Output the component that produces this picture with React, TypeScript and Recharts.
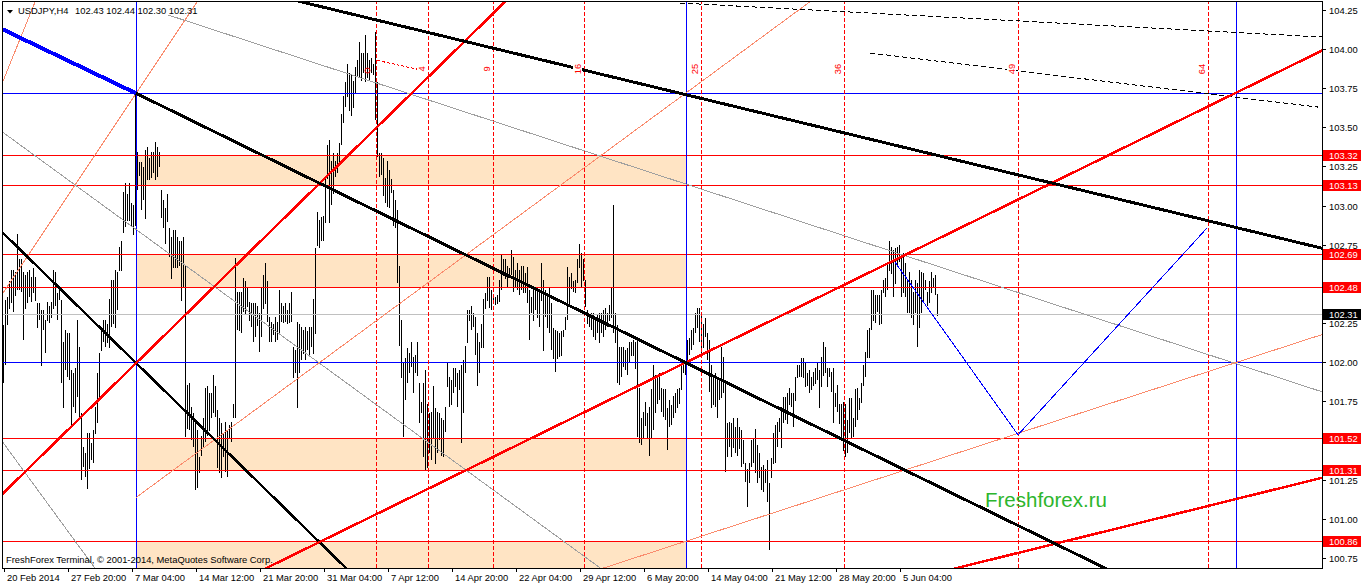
import React from 'react';
import { ComposedChart, Bar, XAxis, YAxis, ReferenceLine, ReferenceArea, ReferenceDot } from 'recharts';

// ---- H4 bars (high / low), one per bar ----
const highs = [
  102.24, 102.40, 102.42, 102.52, 102.59, 102.59, 102.58, 102.82, 102.66, 102.66,
  102.58, 102.56, 102.58, 102.59, 102.55, 102.605, 102.55, 102.38, 102.38, 102.34,
  102.34, 102.27, 102.39, 102.36, 102.39, 102.59, 102.58, 102.445, 102.465, 102.40,
  102.13, 102.21, 102.19, 102.19, 101.955, 101.935, 101.97, 102.27, 102.10, 101.68,
  101.46, 101.425, 101.55, 101.55, 101.49, 101.57, 101.72, 101.935, 102.06, 102.23,
  102.27, 102.27, 102.25, 102.41, 102.53, 102.53, 102.59, 102.58, 102.74, 102.78,
  103.09, 103.15, 103.08, 103.15, 103.02, 103.01, 103.72, 103.345, 103.28, 103.28,
  103.25, 103.36, 103.38, 103.31, 103.345, 103.345, 103.41, 103.38, 103.345, 103.10,
  103.04, 102.99, 103.08, 102.86, 102.80, 102.85, 102.85, 102.80, 102.78, 102.78,
  102.80, 102.62, 101.86, 101.87, 101.72, 101.68, 101.615, 101.57, 101.40, 101.53,
  101.65, 101.84, 101.85, 101.81, 101.81, 101.92, 101.85, 101.70, 101.65, 101.615,
  101.55, 101.62, 101.57, 101.60, 101.62, 101.74, 102.67, 102.45, 102.45, 102.45,
  102.54, 102.52, 102.48, 102.39, 102.38, 102.38, 102.38, 102.36, 102.32, 102.48,
  102.56, 102.64, 102.52, 102.29, 102.26, 102.25, 102.29, 102.26, 102.465, 102.38,
  102.36, 102.38, 102.34, 102.38, 102.45, 102.10, 102.08, 102.26, 102.25, 102.23,
  102.21, 102.23, 102.20, 102.23, 102.23, 102.41, 102.73, 102.96, 102.91, 102.93,
  102.94, 103.19, 103.39, 103.42, 103.29, 103.34, 103.29, 103.34, 103.40, 103.59,
  103.70, 103.79, 103.91, 103.85, 103.84, 103.80, 103.89, 103.93, 104.05, 103.98,
  103.98, 104.09, 103.98, 103.93, 103.945, 103.91, 104.11, 103.79, 103.34, 103.34,
  103.31, 103.18, 103.29, 103.23, 103.17, 103.10, 103.04, 102.975, 102.62, 102.27,
  102.00, 102.03, 102.095, 102.06, 102.13, 102.04, 102.05, 102.13, 101.87, 101.75,
  101.87, 101.955, 101.74, 101.68, 101.685, 101.85, 101.71, 101.685, 101.68, 101.65,
  101.635, 101.72, 102.00, 101.91, 101.89, 101.97, 101.97, 101.935, 101.955, 101.985,
  102.02, 102.11, 102.34, 102.34, 102.36, 102.32, 102.29, 102.19, 102.13, 102.25,
  102.41, 102.445, 102.55, 102.55, 102.465, 102.43, 102.42, 102.43, 102.53, 102.69,
  102.66, 102.66, 102.62, 102.605, 102.72, 102.675, 102.59, 102.64, 102.59, 102.62,
  102.62, 102.57, 102.61, 102.465, 102.42, 102.48, 102.48, 102.465, 102.445, 102.64,
  102.53, 102.465, 102.42, 102.48, 102.38, 102.22, 102.21, 102.20, 102.19, 102.20,
  102.21, 102.29, 102.61, 102.55, 102.57, 102.52, 102.53, 102.66, 102.76, 102.70,
  102.66, 102.53, 102.34, 102.305, 102.32, 102.32, 102.27, 102.305, 102.32, 102.32,
  102.34, 102.35, 102.32, 102.37, 102.48, 103.01, 102.32, 102.24, 102.10, 102.10,
  102.10, 102.08, 102.095, 102.13, 102.13, 102.145, 102.13, 102.165, 101.84, 101.65,
  101.685, 101.75, 101.68, 101.72, 101.83, 101.985, 101.92, 101.91, 101.935, 101.84,
  101.83, 101.83, 101.71, 101.76, 101.73, 101.79, 101.81, 101.83, 101.84, 102.02,
  102.005, 102.005, 102.145, 102.16, 102.21, 102.22, 102.32, 102.35, 102.35, 102.305,
  102.25, 102.285, 102.19, 102.145, 101.985, 101.92, 101.935, 101.91, 101.89, 102.10,
  102.04, 101.89, 101.615, 101.62, 101.615, 101.65, 101.59, 101.65, 101.59, 101.57,
  101.51, 101.36, 101.32, 101.36, 101.51, 101.52, 101.58, 101.475, 101.425, 101.335,
  101.35, 101.32, 101.38, 101.23, 101.39, 101.55, 101.60, 101.62, 101.65, 101.72,
  101.78, 101.78, 101.81, 101.84, 101.81, 101.81, 101.91, 101.985, 101.985, 102.03,
  102.03, 102.00, 101.935, 101.955, 101.91, 101.94, 101.97, 102.00, 101.955, 102.04,
  102.13, 102.10, 101.97, 101.97, 101.94, 101.97, 101.81, 101.86, 101.74, 101.74,
  101.75, 101.74, 101.635, 101.775, 101.775, 101.65, 101.83, 101.84, 101.775, 101.87,
  101.985, 102.07, 102.21, 102.22, 102.465, 102.465, 102.43, 102.43, 102.43, 102.465,
  102.53, 102.54, 102.64, 102.78, 102.74, 102.72, 102.73, 102.74, 102.75, 102.675,
  102.70, 102.64, 102.53, 102.58, 102.53, 102.45, 102.53, 102.51, 102.59, 102.58,
  102.57, 102.53, 102.45, 102.52, 102.58, 102.54, 102.56, 102.44,
];
const lows = [
  101.87, 101.985, 102.24, 102.34, 102.38, 102.32, 102.43, 102.465, 102.465, 102.45,
  102.145, 102.34, 102.38, 102.42, 102.39, 102.445, 102.40, 102.22, 102.27, 101.985,
  102.21, 102.06, 102.27, 102.25, 102.29, 102.34, 102.36, 102.27, 102.40, 101.87,
  101.71, 101.955, 101.91, 101.89, 101.60, 101.72, 101.68, 101.78, 101.65, 101.25,
  101.335, 101.27, 101.19, 101.32, 101.38, 101.36, 101.55, 101.615, 101.76, 102.08,
  102.13, 102.10, 102.13, 102.10, 102.23, 102.25, 102.22, 102.34, 102.59, 102.59,
  102.83, 102.87, 102.91, 102.91, 102.87, 102.82, 102.87, 103.10, 103.19, 102.975,
  103.04, 102.92, 103.17, 103.17, 103.18, 103.21, 103.17, 103.19, 103.25, 102.92,
  102.86, 102.76, 102.90, 102.675, 102.53, 102.61, 102.61, 102.605, 102.62, 102.40,
  102.48, 101.53, 101.58, 101.57, 101.51, 101.46, 101.19, 101.20, 101.30, 101.40,
  101.46, 101.495, 101.53, 101.57, 101.65, 101.68, 101.65, 101.33, 101.30, 101.265,
  101.40, 101.30, 101.27, 101.51, 101.495, 101.65, 101.65, 102.21, 102.20, 102.19,
  102.32, 102.305, 102.36, 102.27, 102.23, 102.13, 102.165, 102.23, 102.07, 102.165,
  102.34, 102.38, 102.26, 102.13, 102.13, 102.18, 102.13, 102.145, 102.19, 102.26,
  102.25, 102.26, 102.25, 102.25, 102.26, 101.90, 101.935, 101.71, 101.935, 102.02,
  102.06, 102.02, 102.08, 102.04, 102.10, 102.06, 102.18, 102.74, 102.73, 102.78,
  102.78, 102.89, 103.17, 102.89, 103.01, 103.08, 103.19, 103.21, 103.275, 103.39,
  103.53, 103.63, 103.70, 103.61, 103.57, 103.63, 103.72, 103.82, 103.82, 103.80,
  103.85, 103.79, 103.82, 103.80, 103.85, 103.84, 103.55, 103.31, 103.19, 103.20,
  103.07, 103.02, 102.995, 102.99, 103.08, 102.87, 102.86, 102.51, 102.11, 101.90,
  101.53, 101.76, 101.87, 101.935, 101.97, 101.81, 101.935, 101.91, 101.615, 101.68,
  101.40, 101.32, 101.33, 101.425, 101.38, 101.51, 101.35, 101.425, 101.51, 101.41,
  101.40, 101.56, 101.85, 101.72, 101.73, 101.81, 101.85, 101.72, 101.83, 101.49,
  101.68, 101.935, 102.13, 102.27, 102.21, 102.23, 102.05, 101.85, 101.935, 102.10,
  102.10, 102.34, 102.40, 102.35, 102.34, 102.37, 102.37, 102.37, 102.39, 102.465,
  102.55, 102.53, 102.48, 102.55, 102.56, 102.45, 102.48, 102.465, 102.43, 102.465,
  102.445, 102.445, 102.38, 102.145, 102.32, 102.27, 102.34, 102.285, 102.23, 102.40,
  102.08, 102.29, 102.22, 102.19, 102.08, 102.02, 101.94, 102.02, 102.04, 102.04,
  102.165, 102.21, 102.27, 102.38, 102.465, 102.45, 102.45, 102.51, 102.605, 102.48,
  102.52, 102.36, 102.25, 102.23, 102.21, 102.165, 102.145, 102.19, 102.13, 102.19,
  102.165, 102.21, 102.23, 102.27, 102.29, 102.19, 102.13, 101.87, 101.86, 101.91,
  101.97, 101.955, 101.92, 102.00, 102.04, 102.04, 101.955, 101.53, 101.49, 101.475,
  101.51, 101.60, 101.52, 101.41, 101.51, 101.57, 101.68, 101.74, 101.76, 101.685,
  101.65, 101.635, 101.44, 101.59, 101.60, 101.65, 101.68, 101.71, 101.74, 101.83,
  101.935, 101.92, 101.985, 102.05, 102.08, 102.11, 102.19, 102.22, 102.13, 102.05,
  102.095, 102.165, 102.02, 101.81, 101.71, 101.73, 101.72, 101.65, 101.76, 101.775,
  101.81, 101.30, 101.40, 101.46, 101.40, 101.46, 101.425, 101.41, 101.45, 101.335,
  101.36, 101.24, 101.08, 101.23, 101.335, 101.36, 101.30, 101.23, 101.265, 101.19,
  101.175, 101.23, 101.11, 100.805, 101.265, 101.35, 101.36, 101.46, 101.56, 101.46,
  101.615, 101.635, 101.615, 101.73, 101.72, 101.59, 101.76, 101.90, 101.91, 101.91,
  101.90, 101.85, 101.85, 101.81, 101.83, 101.85, 101.87, 101.89, 101.71, 101.85,
  101.91, 101.935, 101.85, 101.91, 101.81, 101.62, 101.72, 101.685, 101.615, 101.51,
  101.44, 101.40, 101.425, 101.55, 101.52, 101.53, 101.59, 101.635, 101.70, 101.74,
  101.85, 101.91, 102.03, 102.03, 102.21, 102.27, 102.25, 102.32, 102.24, 102.25,
  102.45, 102.42, 102.465, 102.59, 102.57, 102.42, 102.50, 102.61, 102.64, 102.42,
  102.445, 102.42, 102.32, 102.32, 102.285, 102.24, 102.32, 102.10, 102.22, 102.32,
  102.39, 102.465, 102.36, 102.38, 102.445, 102.48, 102.43, 102.30,
];

// ---- axis ----
const xTickBars = [0, 32, 64, 96, 128, 160, 192, 224, 256, 288, 320, 352, 384, 416, 448];
const xTickLabels = [
  '20 Feb 2014', '27 Feb 20:00', '7 Mar 04:00', '14 Mar 12:00', '21 Mar 20:00',
  '31 Mar 04:00', '7 Apr 12:00', '14 Apr 20:00', '22 Apr 04:00', '29 Apr 12:00',
  '6 May 20:00', '14 May 04:00', '21 May 12:00', '28 May 20:00', '5 Jun 04:00',
];
const yTicks = [100.75, 101.0, 101.25, 101.5, 101.75, 102.0, 102.25, 102.5, 102.75, 103.0, 103.25, 103.5, 103.75, 104.0, 104.25];

// ---- levels ----
const redLevels = [103.32, 103.13, 102.69, 102.48, 101.52, 101.31, 100.86];
const blueLevels = [103.72, 102.0];
const lastBar = { open: 102.43, high: 102.44, low: 102.30, close: 102.31 };

// zones (bar index range + price ranges)
const zoneBars = [66, 341];
const zones = [[103.13, 103.32], [102.48, 102.69], [101.31, 101.52], [100.5, 100.86]];

// vertical lines (bar index)
const blueVerticals = [66, 341, 616];
const gannBars = [186, 212, 244.5, 290, 348.5, 420, 507, 602];
const gannLabels = ['', '4', '9', '16', '25', '36', '49', '64'];

// trend lines: [barIndex, price] pairs
const blueTrend = [[-1, 104.13], [66, 103.72]];
const blackMain = [[66, 103.72], [560, 100.63]];
const blackUpper = [[140, 104.33], [660, 102.728]];
const blackLower = [[-1, 102.835], [175, 100.64]];
const redSteep = [[-1, 101.16], [255, 104.36]];
const redMain = [[120, 100.62], [665, 104.03]];
const redLow = [[470, 100.67], [665, 101.285]];
const salmonA = [[-5, 102.36], [100, 104.37]];
const salmonB = [[-2, 103.75], [17, 104.35]];
const salmonC = [[66, 101.14], [410, 104.37]];
const salmonD = [[290, 100.65], [665, 102.205]];
const grayG1 = [[82, 104.22], [665, 101.79]];
const grayG2 = [[-1, 103.475], [310, 100.58]];
const grayG3 = [[-1, 101.5], [50, 100.61]];
const dashTop1 = [[338, 104.296], [659, 104.079]];
const dashTop2 = [[433, 103.977], [657, 103.632]];
const blueV = [[444.5, 102.66], [507, 101.54], [601.5, 102.86]];
const redDashSmall = [[186.5, 103.93], [208, 103.87]];
const redMarker = [181.75, 103.865];

const FONT = '"Liberation Sans", Arial, sans-serif';
const FS = 9.4;

const bars = highs.map((h, k) => ({ i: k, range: [lows[k], h] }));

const seg = (pts: number[][]) => [
  { x: pts[0][0], y: pts[0][1] },
  { x: pts[1][0], y: pts[1][1] },
];

const BarShape = (props: any) => {
  const { x, y, width, height } = props;
  if (x == null || y == null) return null;
  const top = Math.min(y, y + height);
  const h = Math.abs(height);
  return (
    <rect
      x={Math.floor(x + width / 2 - 0.5)}
      y={Math.round(top)}
      width={1}
      height={Math.max(1, Math.round(h))}
      fill="#000"
      shapeRendering="crispEdges"
    />
  );
};

const XTick = (props: any) => {
  const { x, y, payload } = props;
  const idx = xTickBars.indexOf(payload.value);
  const label = idx >= 0 ? xTickLabels[idx] : '';
  return (
    <g>
      <line x1={x} x2={x} y1={y} y2={y + 4} stroke="#000" shapeRendering="crispEdges" />
      <text x={x + 3} y={y + 13} fontSize={FS} fontFamily={FONT} fill="#000">{label}</text>
    </g>
  );
};

const tagLevels = [...redLevels, lastBar.close];

const YTick = (props: any) => {
  const { x, y, payload } = props;
  const v = payload.value as number;
  if (tagLevels.includes(v)) {
    const bg = v === lastBar.close ? '#000' : '#FF0000';
    return (
      <g>
        <rect x={x + 1} y={y - 5.5} width={38} height={11} fill={bg} shapeRendering="crispEdges" />
        <text x={x + 7} y={y + 3.5} fontSize={FS} fontFamily={FONT} fill="#fff">{v.toFixed(2)}</text>
      </g>
    );
  }
  // a regular label that sits right under a price tag is covered by it
  const covered = tagLevels.some((t) => Math.abs(t - v) < 0.035);
  return (
    <g>
      <line x1={x} x2={x + 4} y1={y} y2={y} stroke="#000" shapeRendering="crispEdges" />
      {!covered && (
        <text x={x + 7} y={y + 3.5} fontSize={FS} fontFamily={FONT} fill="#000">{v.toFixed(2)}</text>
      )}
    </g>
  );
};

const gannLabel = (text: string) => (props: any) => {
  const vb = props.viewBox || {};
  if (!text) return null;
  const len = text.length * 5.3;
  return (
    <g transform={`translate(${(vb.x || 0) - 3},69) rotate(-90)`}>
      <rect x={-len / 2 - 1} y={-8} width={len + 2} height={9} fill="#fff" />
      <text textAnchor="middle" fontSize={FS} fontFamily={FONT} fill="#FF0000">
        {text}
      </text>
    </g>
  );
};

export default function App() {
  const yAxisTicks = [...yTicks, ...tagLevels];
  const trend = (pts: number[][], color: string, w: number, extra: any = {}) => (
    <ReferenceLine
      segment={seg(pts)}
      stroke={color}
      strokeWidth={w}
      ifOverflow="hidden"
      shapeRendering="crispEdges"
      {...extra}
    />
  );
  return (
    <div style={{ position: 'absolute', left: 0, top: 0, width: 1362, height: 586, background: '#fff' }}>
      <ComposedChart width={1362} height={586} data={bars} margin={{ top: 2, right: 0, bottom: 0, left: 2 }}>
        <XAxis
          dataKey="i"
          type="number"
          domain={[-1, 659]}
          allowDataOverflow
          ticks={xTickBars}
          interval={0}
          tick={XTick}
          tickLine={false}
          axisLine={false}
          tickSize={0}
          tickMargin={0}
          height={18}
        />
        <YAxis
          orientation="right"
          type="number"
          domain={[100.6905, 104.3025]}
          allowDataOverflow
          ticks={yAxisTicks}
          interval={0}
          tick={YTick}
          tickLine={false}
          axisLine={false}
          tickSize={0}
          tickMargin={0}
          width={40}
        />
        {zones.map((z, k) => (
          <ReferenceArea
            key={'z' + k}
            x1={zoneBars[0]}
            x2={zoneBars[1]}
            y1={z[0]}
            y2={z[1]}
            fill="#FFE4C4"
            fillOpacity={1}
            stroke="none"
            ifOverflow="hidden"
          />
        ))}
        <Bar dataKey="range" barSize={1} isAnimationActive={false} shape={BarShape} />
        {/* horizontal levels */}
        <ReferenceLine y={lastBar.close} stroke="#C0C0C0" ifOverflow="hidden" shapeRendering="crispEdges" />
        {redLevels.map((v) => (
          <ReferenceLine key={'r' + v} y={v} stroke="#FF0000" ifOverflow="hidden" shapeRendering="crispEdges" />
        ))}
        {blueLevels.map((v) => (
          <ReferenceLine key={'b' + v} y={v} stroke="#0000FF" ifOverflow="hidden" shapeRendering="crispEdges" />
        ))}
        {/* vertical lines */}
        {blueVerticals.map((v) => (
          <ReferenceLine key={'bv' + v} x={v} stroke="#0000FF" ifOverflow="hidden" shapeRendering="crispEdges" />
        ))}
        {gannBars.map((v) => (
          <ReferenceLine
            key={'g' + v}
            x={v}
            stroke="#FF0000"
            strokeDasharray="4 2"
            ifOverflow="hidden"
            shapeRendering="crispEdges"
          />
        ))}
        {/* thin lines */}
        {trend(grayG1, '#A0A0A0', 1)}
        {trend(grayG2, '#A0A0A0', 1)}
        {trend(grayG3, '#A0A0A0', 1)}
        {trend(salmonA, '#FA8C6E', 1)}
        {trend(salmonB, '#FA8C6E', 1)}
        {trend(salmonC, '#FA8C6E', 1)}
        {trend(salmonD, '#FA8C6E', 1)}
        {trend(dashTop1, '#000', 1, { strokeDasharray: '5 3' })}
        {trend(dashTop2, '#000', 1, { strokeDasharray: '5 3' })}
        {trend(redDashSmall, '#FF0000', 1, { strokeDasharray: '3 2' })}
        {trend([blueV[0], blueV[1]], '#0000FF', 1)}
        {trend([blueV[1], blueV[2]], '#0000FF', 1)}
        {/* thick lines */}
        {trend(blackLower, '#000', 2.5)}
        {trend(redSteep, '#FF0000', 2.5)}
        {trend(redMain, '#FF0000', 2.5)}
        {trend(redLow, '#FF0000', 2.5)}
        {trend(blackUpper, '#000', 3)}
        {trend(blackMain, '#000', 3)}
        {trend(blueTrend, '#0000FF', 4)}
        <ReferenceDot x={redMarker[0]} y={redMarker[1]} r={2.5} fill="none" stroke="#FF0000" strokeWidth={1} ifOverflow="hidden" />
        {/* Gann time labels on top of lines */}
        {gannBars.map((v, k) => (
          <ReferenceLine
            key={'gl' + v}
            x={v}
            stroke="none"
            ifOverflow="hidden"
            label={gannLabel(gannLabels[k])}
          />
        ))}
      </ComposedChart>
      <svg
        width={1362}
        height={586}
        style={{ position: 'absolute', left: 0, top: 0, pointerEvents: 'none' }}
      >
        <rect x={2.5} y={1.5} width={1320} height={567} fill="none" stroke="#000" strokeWidth={1} />
        <polygon points="7,10 13,10 10,13.5" fill="#000" />
        <text x={18} y={14} fontSize={FS} fontFamily={FONT} fill="#000">USDJPY,H4</text>
        <text x={75} y={14} fontSize={FS} fontFamily={FONT} fill="#000">
          {`${lastBar.open.toFixed(2)} ${lastBar.high.toFixed(2)} ${lastBar.low.toFixed(2)} ${lastBar.close.toFixed(2)}`}
        </text>
        <text x={6} y={563} fontSize={FS} fontFamily={FONT} fill="#000">
          FreshForex Terminal, © 2001-2014, MetaQuotes Software Corp.
        </text>
        <text x={985} y={507} fontSize={20.5} fontFamily={FONT} fill="#2DB52D">Freshforex.ru</text>
      </svg>
    </div>
  );
}
